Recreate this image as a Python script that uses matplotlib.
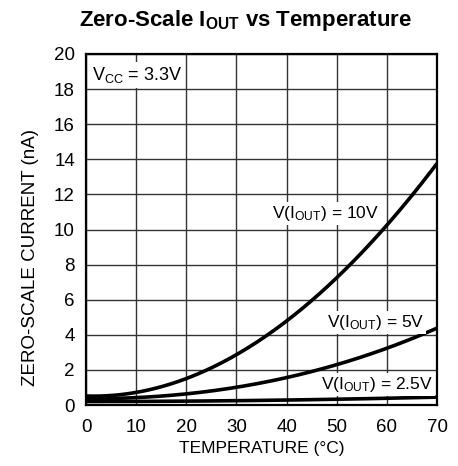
import matplotlib
matplotlib.use("Agg")
import matplotlib.pyplot as plt
import numpy as np

plt.rcParams['font.family'] = ['Liberation Sans', 'DejaVu Sans']
plt.rcParams['mathtext.default'] = 'regular'

# data
temp = [0, 10, 20, 30, 40, 50, 60, 70]
i_10v = [0.5, 0.7, 1.6, 2.85, 4.7, 7.2, 10.4, 13.7]
i_5v = [0.35, 0.42, 0.68, 1.0, 1.5, 2.3, 3.3, 4.35]
i_2v5 = [0.2, 0.2, 0.22, 0.25, 0.28, 0.33, 0.38, 0.45]

labels = ["V($I_{OUT}$) = 10V", "V($I_{OUT}$) = 5V", "V($I_{OUT}$) = 2.5V"]
label_pos = [(47.7, 10.9), (57.7, 4.7), (58, 1.15)]

fig = plt.figure(figsize=(4.58, 4.66), dpi=100)
ax = fig.add_axes([86/458, 1 - 405/466, 351/458, 351/466])

# smooth cubic through the read points
xs = np.linspace(0, 70, 200)
for ys in (i_10v, i_5v, i_2v5):
    ax.plot(xs, np.polyval(np.polyfit(temp, ys, 3), xs),
            color='black', lw=2.6, solid_capstyle='butt', zorder=3)

for txt, (x, y) in zip(labels, label_pos):
    ax.text(x, y, txt, ha='center', va='center', fontsize=12.5, zorder=4,
            bbox=dict(facecolor='white', edgecolor='none', pad=1.5))

ax.text(10.2, 18.8, "$V_{CC}$ = 3.3V", ha='center', va='center', fontsize=13, zorder=4,
        bbox=dict(facecolor='white', edgecolor='none', pad=2))

ax.set_xlim(0, 70)
ax.set_ylim(0, 20)
ax.set_xticks(range(0, 71, 10))
ax.set_yticks(range(0, 21, 2))
ax.grid(True, color='#333333', lw=1.0)
ax.tick_params(length=0, labelsize=13.5)
ax.tick_params(axis='x', pad=10)
ax.tick_params(axis='y', pad=8)
for s in ax.spines.values():
    s.set_linewidth(1.6)

ax.set_xlabel("TEMPERATURE (°C)", fontsize=12.5, labelpad=4)
ax.set_ylabel("ZERO-SCALE CURRENT (nA)", fontsize=13.5)
ax.yaxis.set_label_coords(-0.135, 0.42)
fig.text(0.537, 0.957, "Zero-Scale $I_{OUT}$ vs Temperature", ha='center', va='center',
         fontsize=16, fontweight='bold')

fig.savefig("out.png", dpi=100)
